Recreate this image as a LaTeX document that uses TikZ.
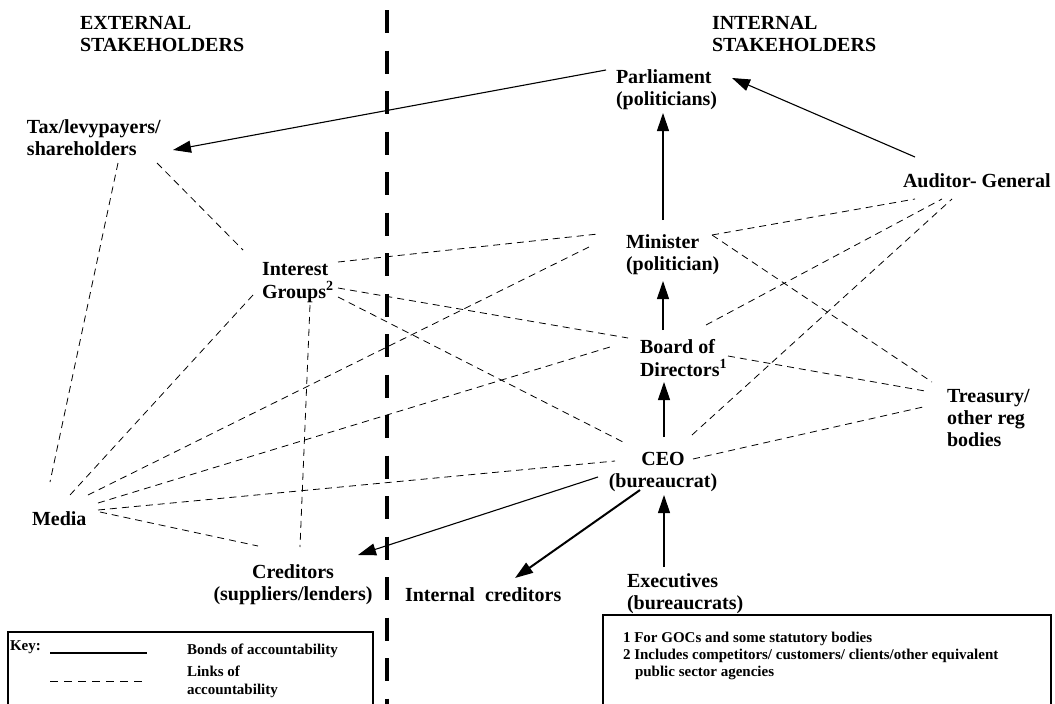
\documentclass[tikz,border=0pt]{standalone}
\usepackage{fontspec}
\setmainfont{Liberation Serif}
\usetikzlibrary{arrows.meta}
\newcommand\blockL[1]{\begin{tabular}[t]{@{}l@{}}#1\end{tabular}}
\newcommand\blockC[1]{\begin{tabular}[t]{@{}c@{}}#1\end{tabular}}
\begin{document}
\begin{tikzpicture}[x=1pt,y=-1pt,
  lbl/.style={inner sep=0pt, outer sep=0pt, anchor=base west, font=\fontsize{20}{22}\selectfont\bfseries},
  lblc/.style={lbl, anchor=base},
  small/.style={inner sep=0pt, outer sep=0pt, anchor=base west, font=\fontsize{15}{17}\selectfont\bfseries},
  bond/.style={line width=1.1pt, -{Triangle[length=18pt,width=12pt]}},
  link/.style={line width=0.8pt, dash pattern=on 7pt off 5pt},
  divider/.style={line width=4pt, dash pattern=on 23pt off 17.5pt},
  keybox/.style={line width=1.2pt}]
\useasboundingbox (0,0) rectangle (1055,704);

% headers
\node[lbl] (ext) at (80,29.5) {\blockL{EXTERNAL\\STAKEHOLDERS}};
\node[lbl] (int) at (712,29.5) {\blockL{INTERNAL\\STAKEHOLDERS}};

% divider
\coordinate (divtop) at (387,10);
\coordinate (divbot) at (387,712);
\draw[divider] (divtop) -- (divbot);

% stakeholders
\node[lbl] (parl) at (616,83.5) {\blockL{Parliament\\(politicians)}};
\node[lbl] (tax) at (27,133) {\blockL{Tax/levypayers/\\shareholders}};
\node[lbl] (aud) at (903,187) {Auditor- General};
\node[lbl] (min) at (626,248) {\blockL{Minister\\(politician)}};
\node[lbl] (ig) at (262,275) {\blockL{Interest\\Groups\textsuperscript{2}}};
\node[lbl] (board) at (640,353) {\blockL{Board of\\Directors\textsuperscript{1}}};
\node[lbl] (treas) at (947,402) {\blockL{Treasury/\\other reg\\bodies}};
\node[lblc] (ceo) at (663,465) {\blockC{CEO\\(bureaucrat)}};
\node[lbl] (media) at (32,525) {Media};
\node[lblc] (cred) at (293,578) {\blockC{Creditors\\(suppliers/lenders)}};
\node[lbl] (intcred) at (405,601) {Internal\ \ creditors};
\node[lbl] (exec) at (627,587) {\blockL{Executives\\(bureaucrats)}};

% bonds of accountability
\draw[bond] ([shift={(-10,-13.5)}]parl.base west) -- ([shift={(146,17)}]tax.base west);
\draw[bond] ([shift={(12,-30)}]aud.base west) -- ([shift={(116,-5.5)}]parl.base west);
\draw[bond] ([shift={(37,-28)}]min.base west) -- ([shift={(47,29.5)}]parl.base west);
\draw[bond] ([shift={(23,-23)}]board.base west) -- ([shift={(37,33)}]min.base west);
\draw[bond] ([shift={(1,-28)}]ceo.base) -- ([shift={(24,29)}]board.base west);
\draw[bond] ([shift={(37,-20)}]exec.base west) -- ([shift={(1,30)}]ceo.base);
\draw[bond] ([shift={(-65,12)}]ceo.base) -- ([shift={(65,-23)}]cred.base);
\draw[bond, line width=2pt] ([shift={(-23,25)}]ceo.base) -- ([shift={(110,-23)}]intcred.base west);

% links of accountability
\draw[link] ([shift={(91,30)}]tax.base west) -- ([shift={(18,-43)}]media.base west);
\draw[link] ([shift={(130,30)}]tax.base west) -- ([shift={(-19,-25)}]ig.base west);
\draw[link] ([shift={(76,-13)}]ig.base west) -- ([shift={(-28,-14)}]min.base west);
\draw[link] ([shift={(56,-30)}]media.base west) -- ([shift={(-33,-3)}]min.base west);
\draw[link] ([shift={(76,13)}]ig.base west) -- ([shift={(-12,-15)}]board.base west);
\draw[link] ([shift={(76,22)}]ig.base west) -- ([shift={(-38,-22)}]ceo.base);
\draw[link] ([shift={(-9,20)}]ig.base west) -- ([shift={(38,-30)}]media.base west);
\draw[link] ([shift={(48,30)}]ig.base west) -- ([shift={(7,-31)}]cred.base);
\draw[link] ([shift={(66,-22)}]media.base west) -- ([shift={(-30,-6)}]board.base west);
\draw[link] ([shift={(66,-15)}]media.base west) -- ([shift={(-48,-4)}]ceo.base);
\draw[link] ([shift={(68,-13)}]media.base west) -- ([shift={(-35,-32)}]cred.base);
\draw[link] ([shift={(86,-13)}]min.base west) -- ([shift={(12,12)}]aud.base west);
\draw[link] ([shift={(86,-13)}]min.base west) -- ([shift={(-15,-20)}]treas.base west);
\draw[link] ([shift={(66,-28)}]board.base west) -- ([shift={(39,12)}]aud.base west);
\draw[link] ([shift={(88,3)}]board.base west) -- ([shift={(-22,-11)}]treas.base west);
\draw[link] ([shift={(29,-30)}]ceo.base) -- ([shift={(49,12)}]aud.base west);
\draw[link] ([shift={(30,-6)}]ceo.base) -- ([shift={(-24,5)}]treas.base west);

% key
\draw[keybox] (8,712) |- (373,632) -- (373,712);
\node[small] (key) at (10,650) {Key:};
\coordinate (bondA) at (50,653);
\coordinate (bondB) at (147,653);
\draw[line width=1.1pt] (bondA) -- (bondB);
\node[small] (bonds) at (187,654) {Bonds of accountability};
\coordinate (linkA) at (50,681);
\coordinate (linkB) at (143,681);
\draw[line width=0.8pt, dash pattern=on 8pt off 6pt] (linkA) -- (linkB);
\node[small, font=\fontsize{15}{18}\selectfont\bfseries] (links) at (187,676) {\blockL{Links of\\accountability}};

% notes
\draw[keybox] (603,712) |- (1051,615) -- (1051,712);
\node[small] (notes) at (623,642) {\blockL{1 For GOCs and some statutory bodies\\2 Includes competitors/ customers/ clients/other equivalent\\\hspace{12pt}public sector agencies}};
\end{tikzpicture}
\end{document}
